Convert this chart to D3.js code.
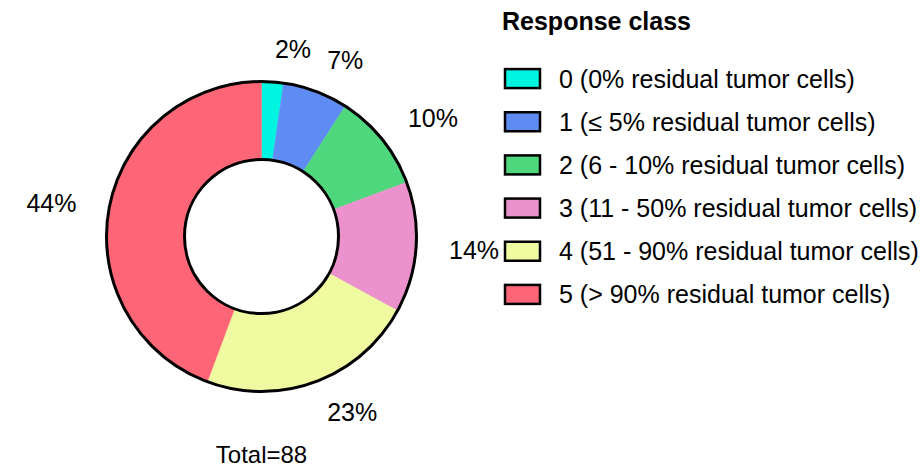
<!DOCTYPE html>
<html>
<head>
<meta charset="utf-8">
<script src="https://cdn.jsdelivr.net/npm/d3@7"></script>
<style>
  body { margin: 0; background: #fff; }
  svg text { font-family: "Liberation Sans", Arial, sans-serif; fill: #000; }
</style>
</head>
<body>
<svg id="chart" width="924" height="468"></svg>
<script>
// response classes, counts read from the percentages (total 88)
const classes = ["0", "1", "2", "3", "4", "5"];
const labels = [
    "0 (0% residual tumor cells)",
    "1 (\u2264 5% residual tumor cells)",
    "2 (6 - 10% residual tumor cells)",
    "3 (11 - 50% residual tumor cells)",
    "4 (51 - 90% residual tumor cells)",
    "5 (> 90% residual tumor cells)"
];
const counts = [2, 6, 9, 12, 20, 39];
const colors = ["#00f5e1", "#5f8cf2", "#4fd77e", "#eb92cc", "#effaa1", "#fe6677"];

const width = 924, height = 468;
const cx = 261.5, cy = 236.5;
const outerR = 155, innerR = 77;

const svg = d3.select("#chart");
const total = d3.sum(counts);
const data = classes.map((c, i) => ({ cls: c, label: labels[i], n: counts[i] }));

const color = d3.scaleOrdinal().domain(classes).range(colors);
const pie = d3.pie().value(d => d.n).sort(null);
const arcs = pie(data);
const arc = d3.arc().innerRadius(innerR).outerRadius(outerR);

const g = svg.append("g").attr("transform", `translate(${cx},${cy})`);

g.selectAll("path.slice")
    .data(arcs)
    .join("path")
    .attr("class", "slice")
    .attr("d", arc)
    .attr("fill", d => color(d.data.cls))
    .attr("stroke", d => color(d.data.cls))
    .attr("stroke-width", 0.5);

// outline only on the outer and inner edge
[outerR, innerR].forEach(r => {
    g.append("circle")
        .attr("r", r)
        .attr("fill", "none")
        .attr("stroke", "#000")
        .attr("stroke-width", 3);
});

// percentage labels
const labelR = 188;
g.selectAll("text.pct")
    .data(arcs)
    .join("text")
    .attr("class", "pct")
    .each(function(d) {
        const a = (d.startAngle + d.endAngle) / 2;
        const x = labelR * Math.sin(a), y = -labelR * Math.cos(a);
        d3.select(this)
            .attr("x", x)
            .attr("y", y)
            .attr("dy", "0.35em")
            .attr("text-anchor", Math.sin(a) >= 0 ? "start" : "end");
    })
    .style("font-size", "25px")
    .text(d => Math.round(d.data.n / total * 100) + "%");

svg.append("text")
    .attr("x", cx)
    .attr("y", 463)
    .attr("text-anchor", "middle")
    .style("font-size", "24px")
    .text("Total=" + total);

// legend
const legendX = 505;
const y = d3.scaleBand()
    .domain(classes)
    .range([57, 316])
    .paddingInner(0);

svg.append("text")
    .attr("x", 502)
    .attr("y", 30)
    .style("font-size", "25px")
    .style("font-weight", "bold")
    .text("Response class");

const rows = svg.selectAll("g.legend")
    .data(data)
    .join("g")
    .attr("class", "legend")
    .attr("transform", d => `translate(${legendX},${y(d.cls) + y.bandwidth() / 2})`);

rows.append("rect")
    .attr("x", 0)
    .attr("y", -9.5)
    .attr("width", 35)
    .attr("height", 19)
    .attr("fill", d => color(d.cls))
    .attr("stroke", "#000")
    .attr("stroke-width", 2.5);

rows.append("text")
    .attr("x", 54)
    .attr("dy", "0.36em")
    .style("font-size", "25px")
    .text(d => d.label);
</script>
</body>
</html>
